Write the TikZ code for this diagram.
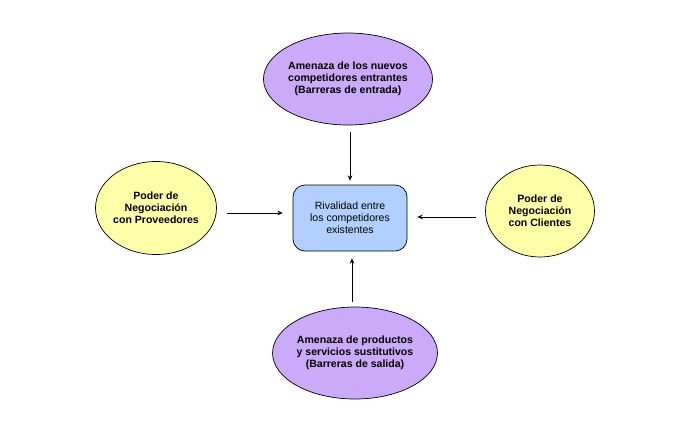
\documentclass[tikz,border=0pt]{standalone}
\usepackage{fontspec}
\setmainfont{Liberation Sans}
\usetikzlibrary{shapes.geometric,arrows.meta}
\definecolor{amenaza}{RGB}{204,170,250}
\definecolor{poder}{RGB}{255,255,170}
\definecolor{rival}{RGB}{178,208,255}
\begin{document}
\begin{tikzpicture}[x=0.03cm, y=-0.03cm,
    every node/.style={font=\fontsize{9}{10.2}\selectfont, align=center},
    fuerza/.style={ellipse, draw, line width=0.6pt, inner sep=0pt, font=\fontsize{9}{10.2}\selectfont\bfseries},
    flecha/.style={-{Stealth[length=4.5pt,width=4pt]}, line width=0.7pt}]
    \useasboundingbox (0,0) rectangle (700,438);

    \node[fuerza, fill=amenaza, minimum width=4.17cm, minimum height=2.76cm] (nuevos) at (348, 79) {Amenaza de los nuevos\\competidores entrantes\\(Barreras de entrada)};
    \node[fuerza, fill=poder, minimum width=3.42cm, minimum height=2.79cm] (proveedores) at (156, 208) {Poder de\\Negociación\\con Proveedores};
    \node[fuerza, fill=poder, minimum width=3.27cm, minimum height=2.76cm] (clientes) at (540, 211) {Poder de\\Negociación\\con Clientes};
    \node[fuerza, fill=amenaza, minimum width=4.05cm, minimum height=2.76cm] (sustitutos) at (355, 353) {Amenaza de productos\\y servicios sustitutivos\\(Barreras de salida)};
    \node[draw, rounded corners=0.36cm, fill=rival, line width=0.6pt, minimum width=3.42cm, minimum height=1.98cm] (rivalidad) at (350, 218) {Rivalidad entre\\los competidores\\existentes};

    \draw[flecha, shorten <=0.21cm, shorten >=0.12cm] (rivalidad.north |- nuevos.south) -- (rivalidad.north);
    \draw[flecha, shorten <=0.15cm, shorten >=0.21cm] ([xshift=0.06cm]rivalidad.south |- sustitutos.north) -- ([xshift=0.06cm]rivalidad.south);
    \draw[flecha, shorten <=0.3cm, shorten >=0.3cm] (proveedores.east |- 0,213) -- (rivalidad.west |- 0,213);
    \draw[flecha, shorten <=0.27cm, shorten >=0.3cm] (clientes.west |- 0,217) -- (rivalidad.east |- 0,217);
\end{tikzpicture}
\end{document}
